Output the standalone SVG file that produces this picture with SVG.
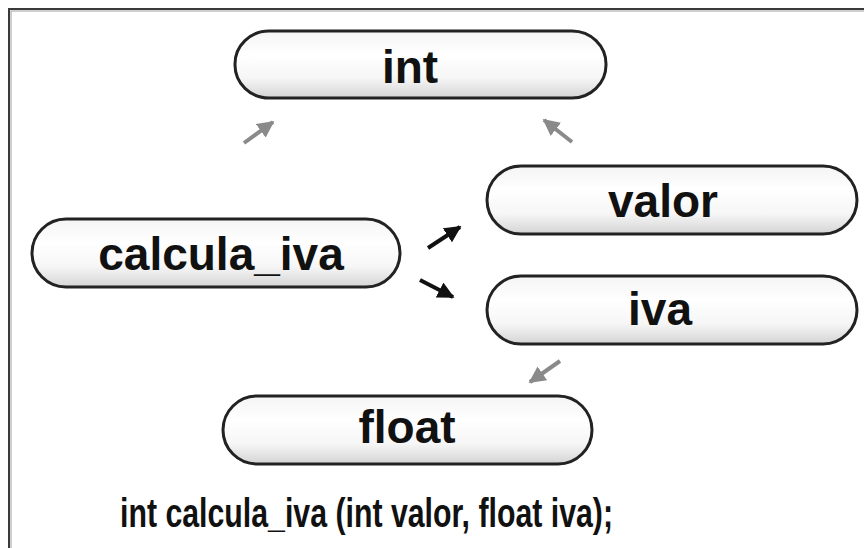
<svg xmlns="http://www.w3.org/2000/svg" width="864" height="548" viewBox="0 0 864 548">
<defs>
<linearGradient id="pillFill" x1="0" y1="0" x2="0" y2="1">
<stop offset="0" stop-color="#f4f4f4"/>
<stop offset="0.35" stop-color="#ffffff"/>
<stop offset="0.7" stop-color="#f6f6f6"/>
<stop offset="1" stop-color="#d4d4d4"/>
</linearGradient>
<marker id="headGray" viewBox="0 0 10 10" refX="9" refY="5" markerWidth="4.2" markerHeight="4.2" markerUnits="strokeWidth" orient="auto">
<path d="M0,0 L10,5 L0,10 Z" fill="#8a8a8a"/>
</marker>
<marker id="headBlack" viewBox="0 0 10 10" refX="9" refY="5" markerWidth="4.2" markerHeight="4.2" markerUnits="strokeWidth" orient="auto">
<path d="M0,0 L10,5 L0,10 Z" fill="#111"/>
</marker>
</defs>
<style>
.pill { fill: url(#pillFill); stroke: #222; stroke-width: 3; }
.lbl { font-family: "Liberation Sans", Arial, sans-serif; font-weight: bold; font-size: 46px; fill: #111; text-anchor: middle; }
.gray { stroke: #8a8a8a; stroke-width: 4; fill: none; marker-end: url(#headGray); }
.black { stroke: #111; stroke-width: 4; fill: none; marker-end: url(#headBlack); }
.sig { font-family: "Liberation Sans", Arial, sans-serif; font-weight: bold; font-size: 40px; fill: #111; }
</style>
<rect x="0" y="0" width="864" height="548" fill="#ffffff"/>
<rect x="9" y="9" width="880" height="580" fill="none" stroke="#3a3a3a" stroke-width="2"/>
<rect x="11" y="11" width="880" height="580" fill="none" stroke="#a0a0a0" stroke-width="1"/>

<g id="connectors">
<line class="gray" x1="244" y1="143" x2="273" y2="122"/>
<line class="gray" x1="572" y1="142" x2="544" y2="120"/>
<line class="black" x1="428" y1="248" x2="460" y2="227"/>
<line class="black" x1="420" y1="280" x2="453" y2="297"/>
<line class="gray" x1="560" y1="361" x2="530" y2="382"/>
</g>

<g id="node-int">
<rect class="pill" x="235" y="31" width="371" height="67" rx="34" ry="33"/>
<text class="lbl" x="410" y="83">int</text>
</g>
<g id="node-calcula_iva">
<rect class="pill" x="32" y="219" width="368" height="68" rx="34" ry="34"/>
<text class="lbl" x="221" y="270">calcula_iva</text>
</g>
<g id="node-valor">
<rect class="pill" x="487" y="166" width="370" height="68" rx="34" ry="34"/>
<text class="lbl" x="663" y="217">valor</text>
</g>
<g id="node-iva">
<rect class="pill" x="487" y="276" width="370" height="68" rx="34" ry="34"/>
<text class="lbl" x="660" y="325">iva</text>
</g>
<g id="node-float">
<rect class="pill" x="223" y="396" width="369" height="68" rx="34" ry="34"/>
<text class="lbl" x="407" y="443">float</text>
</g>

<text class="sig" x="120" y="527" textLength="493" lengthAdjust="spacingAndGlyphs">int calcula_iva (int valor, float iva);</text>
</svg>
